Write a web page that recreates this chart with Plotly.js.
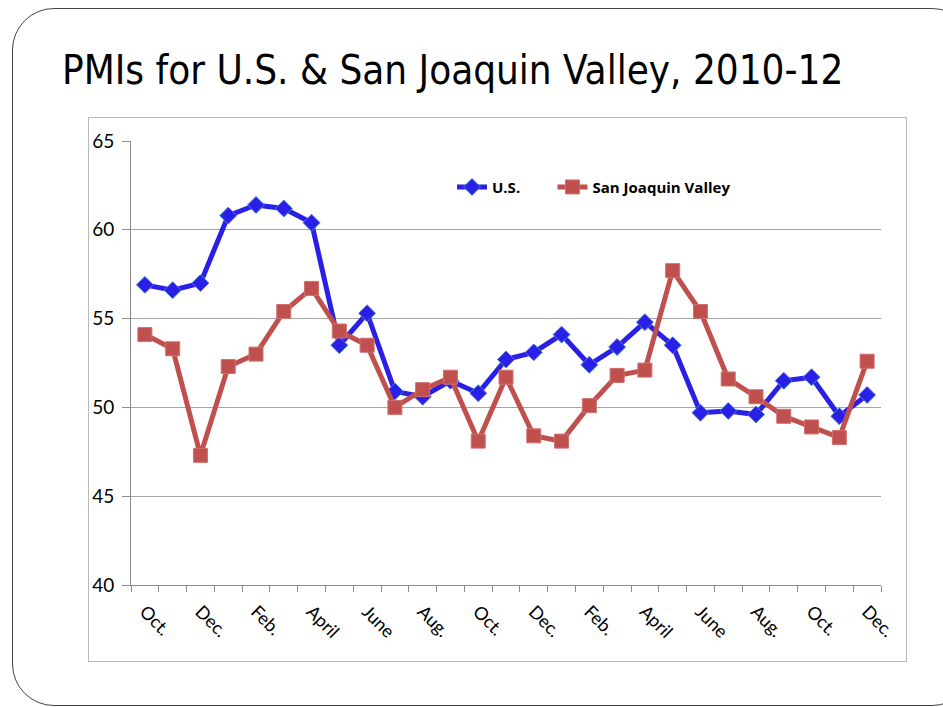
<!DOCTYPE html>
<html>
<head>
<meta charset="utf-8">
<script src="https://cdn.plot.ly/plotly-3.0.1.min.js"></script>
<style>
  html, body { margin:0; padding:0; background:#fff; width:943px; height:707px; overflow:hidden; }
  #frame { position:absolute; left:12px; top:8px; width:960px; height:696px; border:1.3px solid #444; border-radius:42px; background:#fff; }
  #box { position:absolute; left:88px; top:117px; width:817px; height:543px; border:1px solid #b8b8b8; background:#fff; }
  #chart { position:absolute; left:0; top:0; width:943px; height:707px; }
</style>
</head>
<body>
<div id="frame"></div>
<div id="box"></div>
<div id="chart"></div>
<script>
// Months Oct 2010 .. Dec 2012
const months = ["Oct.","Nov.","Dec.","Jan.","Feb.","Mar.","April","May","June","July","Aug.","Sep.",
                "Oct.","Nov.","Dec.","Jan.","Feb.","Mar.","April","May","June","July","Aug.","Sep.",
                "Oct.","Nov.","Dec."];
const usPMI  = [56.9,56.6,57.0,60.8,61.4,61.2,60.4,53.5,55.3,50.9,50.6,51.5,50.8,52.7,53.1,54.1,52.4,53.4,54.8,53.5,49.7,49.8,49.6,51.5,51.7,49.5,50.7];
const sjvPMI = [54.1,53.3,47.3,52.3,53.0,55.4,56.7,54.3,53.5,50.0,51.0,51.7,48.1,51.7,48.4,48.1,50.1,51.8,52.1,57.7,55.4,51.6,50.6,49.5,48.9,48.3,52.6];
const tickIdx = [0,2,4,6,8,10,12,14,16,18,20,22,24,26];
const tickLabels = tickIdx.map(i => months[i]);
const yTicks = [40,45,50,55,60,65];

const xs = months.map((_, i) => i);

const traces = [
  { x: xs, y: usPMI, name: "U.S.", type: "scatter", mode: "lines+markers", legend: "legend",
    line: { color: "#2A1FE6", width: 5 },
    marker: { symbol: "diamond", size: 13, color: "#2A1FE6", line: { color: "#4A7FD0", width: 1 } } },
  { x: xs, y: sjvPMI, name: "San Joaquin Valley", type: "scatter", mode: "lines+markers", legend: "legend2",
    line: { color: "#C0504D", width: 5 },
    marker: { symbol: "square", size: 14, color: "#C0504D", line: { color: "#D07070", width: 1 } } }
];

const legendFont = { family: "Open Sans, sans-serif", size: 15, color: "#000", weight: "bold" };

const layout = {
  width: 943, height: 707,
  paper_bgcolor: "rgba(0,0,0,0)", plot_bgcolor: "rgba(0,0,0,0)",
  margin: { l: 131, r: 62, t: 141, b: 122, pad: 0 },
  title: { text: "PMIs for U.S. & San Joaquin Valley, 2010-12",
           font: { family: "Liberation Sans Narrow, DejaVu Sans Condensed, Arial Narrow, sans-serif", size: 40, color: "#000" },
           xref: "container", yref: "container", x: 62/943, xanchor: "left", y: 1 - 70/707, yanchor: "middle" },
  showlegend: true,
  legend: { orientation: "h", x: 0.428, xanchor: "left", y: 0.896, yanchor: "middle",
            font: legendFont, bgcolor: "rgba(0,0,0,0)", itemwidth: 30 },
  legend2: { orientation: "h", x: 0.562, xanchor: "left", y: 0.896, yanchor: "middle",
            font: legendFont, bgcolor: "rgba(0,0,0,0)", itemwidth: 30 },
  xaxis: { range: [-0.5, 26.5], tickmode: "array", tickvals: tickIdx, ticktext: tickLabels,
           tickangle: 45, ticks: "", showgrid: false, zeroline: false,
           showline: true, linecolor: "#8c8c8c", linewidth: 1, ticklabelstandoff: 8,
           tickfont: { family: "Lato, sans-serif", size: 18, color: "#000" },
           minor: { tick0: -0.5, dtick: 1, ticks: "outside", ticklen: 6, tickcolor: "#8c8c8c", showgrid: false },
           fixedrange: true },
  yaxis: { range: [40, 65], tickmode: "array", tickvals: yTicks, ticktext: yTicks.map(String),
           ticks: "outside", ticklen: 8, tickcolor: "#8c8c8c", ticklabelstandoff: 4,
           showgrid: true, gridcolor: "#a6a6a6", gridwidth: 1, zeroline: false,
           showline: true, linecolor: "#8c8c8c", linewidth: 1,
           tickfont: { family: "Lato, sans-serif", size: 19, color: "#000" },
           fixedrange: true }
};

Plotly.newPlot("chart", traces, layout, { staticPlot: true, displayModeBar: false });
</script>
</body>
</html>
